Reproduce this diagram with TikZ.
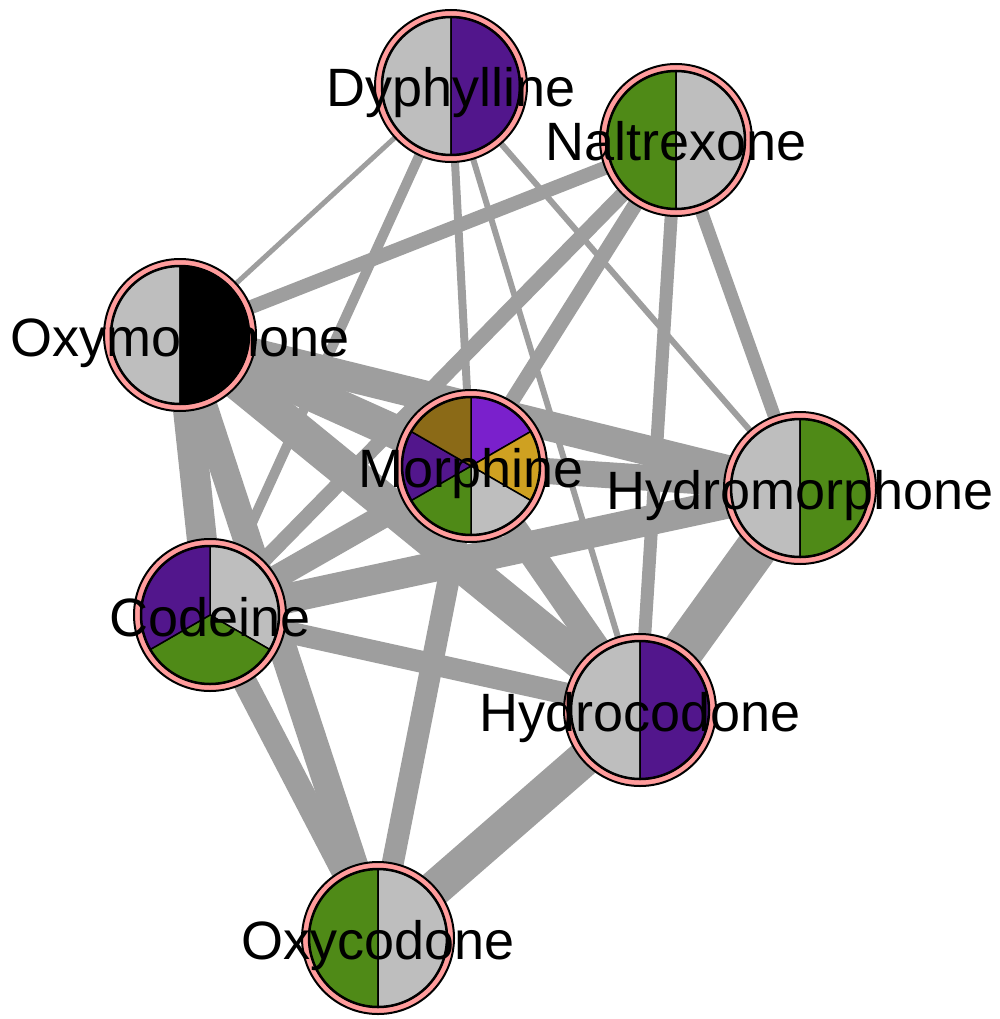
\documentclass[tikz,border=0pt]{standalone}
\usepackage{fontspec}
\setmainfont{Liberation Sans}
\usetikzlibrary{backgrounds}
\definecolor{EdgeGray}{HTML}{9E9E9E}
\definecolor{RingPink}{HTML}{FF9C9C}
\definecolor{SliceGray}{HTML}{BEBEBE}
\definecolor{SlicePurple}{HTML}{52168C}
\definecolor{SliceGreen}{HTML}{4F8A17}
\definecolor{SliceViolet}{HTML}{7A20CC}
\definecolor{SliceGold}{HTML}{CFA121}
\definecolor{SliceBrown}{HTML}{8B6A17}

\tikzset{
  drug/.style={circle, draw=black, line width=2pt, fill=RingPink, minimum size=152pt, inner sep=0pt},
  drugname/.style={font=\fontsize{54}{60}\selectfont, inner sep=0pt, anchor=base, yshift=-21pt},
  link/.style={draw=EdgeGray}
}
% one pie slice: node, start angle, end angle, colour
\newcommand{\pieslice}[4]{%
  \filldraw[fill=#4, draw=black, line width=1.5pt] (#1.center) -- ++(#2:69) arc[start angle=#2, end angle=#3, radius=69] -- cycle;}
\newcommand{\piering}[1]{\draw[line width=2.5pt] (#1.center) circle[radius=69];}

\begin{document}
\begin{tikzpicture}[x=1pt, y=1pt]
  \useasboundingbox (0,0) rectangle (1000,-1019);

  % drugs
  \node[drug] (dy) at (451,-86) {};
  \pieslice{dy}{90}{270}{SliceGray}
  \pieslice{dy}{-90}{90}{SlicePurple}
  \piering{dy}

  \node[drug] (na) at (676,-140) {};
  \pieslice{na}{90}{270}{SliceGreen}
  \pieslice{na}{-90}{90}{SliceGray}
  \piering{na}

  \node[drug] (ox) at (180,-335) {};
  \pieslice{ox}{90}{270}{SliceGray}
  \pieslice{ox}{-90}{90}{black}
  \piering{ox}

  \node[drug] (mo) at (471,-466) {};
  \pieslice{mo}{30}{90}{SliceViolet}
  \pieslice{mo}{-30}{30}{SliceGold}
  \pieslice{mo}{-90}{-30}{SliceGray}
  \pieslice{mo}{-150}{-90}{SliceGreen}
  \pieslice{mo}{150}{210}{SlicePurple}
  \pieslice{mo}{90}{150}{SliceBrown}
  \piering{mo}

  \node[drug] (hm) at (800,-488) {};
  \pieslice{hm}{90}{270}{SliceGray}
  \pieslice{hm}{-90}{90}{SliceGreen}
  \piering{hm}

  \node[drug] (co) at (210,-615) {};
  \pieslice{co}{-30}{90}{SliceGray}
  \pieslice{co}{-150}{-30}{SliceGreen}
  \pieslice{co}{90}{210}{SlicePurple}
  \piering{co}

  \node[drug] (hc) at (640,-710) {};
  \pieslice{hc}{90}{270}{SliceGray}
  \pieslice{hc}{-90}{90}{SlicePurple}
  \piering{hc}

  \node[drug] (oc) at (378,-938) {};
  \pieslice{oc}{90}{270}{SliceGreen}
  \pieslice{oc}{-90}{90}{SliceGray}
  \piering{oc}

  % co-occurrence links, width = weight
  \begin{scope}[on background layer]
    \foreach \a/\b/\w in {dy/ox/5, dy/co/10, dy/mo/8, dy/hc/6, dy/hm/6,
        na/ox/14, na/co/15, na/mo/15, na/hc/13, na/hm/13,
        ox/mo/34, ox/hm/30, ox/hc/36, ox/co/30, ox/oc/28,
        mo/co/24, mo/hm/26, mo/hc/26, mo/oc/22,
        co/hm/30, co/hc/22, co/oc/24,
        hc/hm/42, hc/oc/36}
      \draw[link, line width=\w pt] (\a.center) -- (\b.center);
  \end{scope}

  % names on top
  \node[drugname] (dy-name) at (dy.center) {Dyphylline};
  \node[drugname] (na-name) at (na.center) {Naltrexone};
  \node[drugname] (ox-name) at (ox.center) {Oxymorphone};
  \node[drugname] (mo-name) at (mo.center) {Morphine};
  \node[drugname] (hm-name) at (hm.center) {Hydromorphone};
  \node[drugname] (co-name) at (co.center) {Codeine};
  \node[drugname] (hc-name) at (hc.center) {Hydrocodone};
  \node[drugname] (oc-name) at (oc.center) {Oxycodone};
\end{tikzpicture}
\end{document}
